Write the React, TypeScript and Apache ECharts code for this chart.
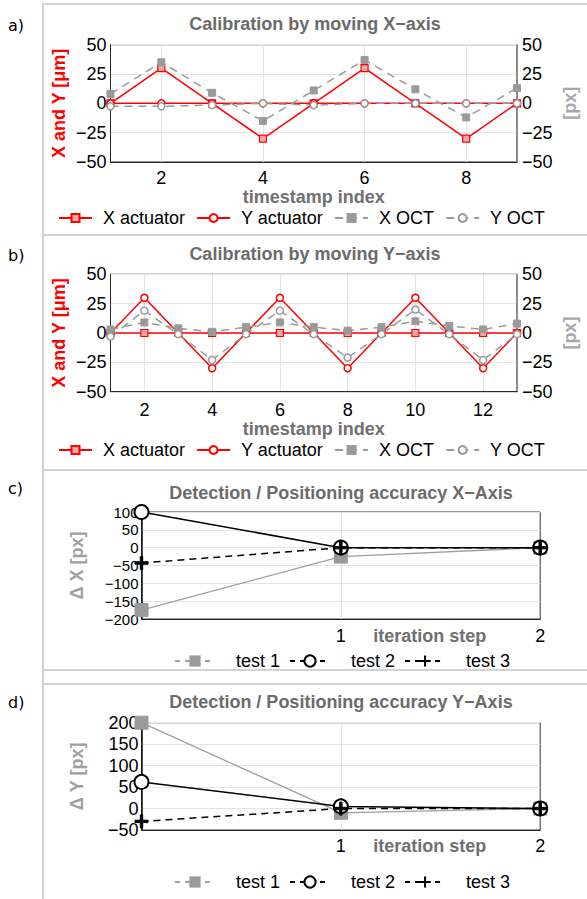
import React, { useEffect, useRef } from 'react';
import * as echarts from 'echarts';

const FONT = '"Liberation Sans", Arial, Helvetica, sans-serif';

// Panel a: calibration by moving X-axis
const idxA = ['1', '2', '3', '4', '5', '6', '7', '8', '9'];
const xActA = [0, 30, 0, -30, 0, 30, 0, -30, 0];
const yActA = [0, 0, 0, 0, 0, 0, 0, 0, 0];
const xOctA = [8, 35, 9, -15, 11, 37, 12, -12, 13];
const yOctA = [-2.5, -2.5, -1.5, 0, -1.5, 0, 0, 0, 0];

// Panel b: calibration by moving Y-axis
const idxB = ['1', '2', '3', '4', '5', '6', '7', '8', '9', '10', '11', '12', '13'];
const xActB = [0, 0, 0, 0, 0, 0, 0, 0, 0, 0, 0, 0, 0];
const yActB = [0, 30, 0, -30, 0, 30, 0, -30, 0, 30, 0, -30, 0];
const xOctB = [3, 9, 4, 1, 5, 9, 5, 2, 5, 10, 6, 3, 8];
const yOctB = [-3, 19, -1, -23, -1, 19, -1, -21, -1, 20, -1, -23, -1];

// Panels c/d: iteration steps
const steps = ['0', '1', '2'];
const test1X = [-175, -25, 0];
const test2X = [100, 0, 0];
const test3X = [-43, 0, 0];
const test1Y = [200, -10, 0];
const test2Y = [62, 5, 0];
const test3Y = [-30, 0, 0];

const calLegend = ['X actuator', 'Y actuator', 'X OCT', 'Y OCT'];
const testLegend = ['test 1', 'test 2', 'test 3'];

const PLUS = 'path://M-1.1,-6H1.1V-1.1H6V1.1H1.1V6H-1.1V1.1H-6V-1.1H-1.1Z';

const fmt = (v: number | string) => String(v).replace('-', '\u2212');

const RED = '#ff0000';
const GRAY = '#9a9a9a';
const TITLE_GRAY = '#6b6b6b';
const GRID_LINE = '#e4e4e4';
const BOX = '#262626';

function calXAxis(gridIndex: number, data: string[], nameGap: number, margin: number) {
  return {
    gridIndex,
    type: 'category',
    data,
    boundaryGap: false,
    axisLine: { onZero: false, lineStyle: { color: BOX, width: 1 } },
    axisTick: { show: false },
    axisLabel: {
      interval: (i: number, v: string) => Number(v) % 2 === 0,
      fontSize: 18,
      fontFamily: FONT,
      color: '#000',
      margin,
    },
    splitLine: {
      show: true,
      interval: (i: number, v: string) => Number(v) % 2 === 0,
      lineStyle: { color: GRID_LINE, width: 1 },
    },
    name: 'timestamp index',
    nameLocation: 'middle',
    nameGap,
    nameMoveOverlap: false,
    nameTextStyle: { fontSize: 18, fontWeight: 'bold', color: '#707070', fontFamily: FONT },
  };
}

function calYAxes(gridIndex: number) {
  return [
    {
      gridIndex,
      type: 'value',
      position: 'left',
      min: -50,
      max: 50,
      interval: 25,
      axisLine: { show: true, onZero: false, lineStyle: { color: BOX, width: 1 } },
      axisTick: { show: false },
      axisLabel: { formatter: fmt, fontSize: 18, fontFamily: FONT, color: '#000', margin: 4 },
      splitLine: { show: true, lineStyle: { color: GRID_LINE, width: 1 } },
      name: 'X and Y [\u03bcm]',
      nameLocation: 'middle',
      nameGap: 43,
      nameMoveOverlap: false,
      nameTextStyle: { fontSize: 18, fontWeight: 'bold', color: RED, fontFamily: FONT },
    },
    {
      gridIndex,
      type: 'value',
      position: 'right',
      min: -50,
      max: 50,
      interval: 25,
      axisLine: { show: true, onZero: false, lineStyle: { color: '#8a8a8a', width: 1.5 } },
      axisTick: { show: false },
      axisLabel: { formatter: fmt, fontSize: 18, fontFamily: FONT, color: '#000', margin: 5 },
      splitLine: { show: false },
      name: '[px]',
      nameLocation: 'middle',
      nameGap: 44,
      nameMoveOverlap: false,
      nameTextStyle: { fontSize: 18, fontWeight: 'bold', color: '#a8a8a8', fontFamily: FONT },
    },
  ];
}

function calSeries(xi: number, yl: number, yr: number, xa: number[], ya: number[], xo: number[], yo: number[]) {
  return [
    {
      name: 'X actuator', type: 'line', xAxisIndex: xi, yAxisIndex: yl, data: xa,
      symbol: 'rect', symbolSize: 7,
      lineStyle: { color: RED, width: 1.5 },
      itemStyle: { color: '#f2a9a9', borderColor: RED, borderWidth: 1.2 },
    },
    {
      name: 'Y actuator', type: 'line', xAxisIndex: xi, yAxisIndex: yl, data: ya,
      symbol: 'circle', symbolSize: 7,
      lineStyle: { color: RED, width: 1.5 },
      itemStyle: { color: '#ffffff', borderColor: RED, borderWidth: 1.5 },
    },
    {
      name: 'X OCT', type: 'line', xAxisIndex: xi, yAxisIndex: yr, data: xo,
      symbol: 'rect', symbolSize: 7,
      lineStyle: { color: GRAY, width: 1.5, type: [8, 6] },
      itemStyle: { color: GRAY, borderColor: GRAY, borderWidth: 1 },
    },
    {
      name: 'Y OCT', type: 'line', xAxisIndex: xi, yAxisIndex: yr, data: yo,
      symbol: 'circle', symbolSize: 7,
      lineStyle: { color: GRAY, width: 1.5, type: [8, 6] },
      itemStyle: { color: '#ffffff', borderColor: GRAY, borderWidth: 1.5 },
    },
  ];
}

function accXAxis(gridIndex: number, margin: number) {
  return {
    gridIndex,
    type: 'category',
    data: steps,
    boundaryGap: false,
    axisLine: { onZero: false, lineStyle: { color: BOX, width: 1 } },
    axisTick: { show: false },
    axisLabel: {
      interval: (i: number) => i > 0,
      fontSize: 18,
      fontFamily: FONT,
      color: '#000',
      margin,
    },
    splitLine: {
      show: true,
      interval: (i: number) => i === 1,
      lineStyle: { color: GRID_LINE, width: 1 },
    },
    name: 'iteration step',
    nameLocation: 'middle',
    nameGap: margin,
    nameMoveOverlap: false,
    nameTextStyle: {
      fontSize: 18, fontWeight: 'bold', color: '#707070', fontFamily: FONT,
      padding: [0, 0, 0, 178],
    },
  };
}

function accYAxis(gridIndex: number, min: number, max: number, name: string, labelSize: number) {
  return {
    gridIndex,
    type: 'value',
    min,
    max,
    interval: 50,
    axisLine: { show: true, onZero: false, lineStyle: { color: '#111', width: 1.5 } },
    axisTick: { show: false },
    axisLabel: { formatter: fmt, fontSize: labelSize, fontFamily: FONT, color: '#000', margin: 3 },
    splitLine: { show: true, lineStyle: { color: GRID_LINE, width: 1 } },
    name,
    nameLocation: 'middle',
    nameGap: 56,
    nameMoveOverlap: false,
    nameTextStyle: { fontSize: 18, fontWeight: 'bold', color: '#a0a0a0', fontFamily: FONT },
  };
}

function accSeries(xi: number, yi: number, t1: number[], t2: number[], t3: number[]) {
  return [
    {
      name: 'test 1', type: 'line', xAxisIndex: xi, yAxisIndex: yi, data: t1,
      symbol: 'rect', symbolSize: 13,
      lineStyle: { color: '#a0a0a0', width: 1.3 },
      itemStyle: { color: '#9a9a9a', borderColor: '#9a9a9a' },
    },
    {
      name: 'test 2', type: 'line', xAxisIndex: xi, yAxisIndex: yi, data: t2,
      symbol: 'circle', symbolSize: 14,
      lineStyle: { color: '#000', width: 1.5 },
      itemStyle: { color: '#ffffff', borderColor: '#000', borderWidth: 2 },
    },
    {
      name: 'test 3', type: 'line', xAxisIndex: xi, yAxisIndex: yi, data: t3,
      symbol: PLUS, symbolSize: 13,
      lineStyle: { color: '#000', width: 1.5, type: [7, 5] },
      itemStyle: { color: '#000', borderColor: '#000' },
    },
  ];
}

function calLegendOpt(top: number) {
  return {
    top,
    left: 58,
    padding: 0,
    orient: 'horizontal',
    selectedMode: false,
    itemWidth: 33,
    itemHeight: 10,
    itemGap: 11,
    textStyle: { fontSize: 18, fontFamily: FONT, color: '#000', padding: [0, 0, 0, 6] },
    data: calLegend,
  };
}

function testLegendOpt(top: number) {
  return {
    top,
    left: 174,
    padding: 0,
    orient: 'horizontal',
    selectedMode: false,
    itemWidth: 40,
    itemHeight: 14,
    itemGap: 9,
    textStyle: { fontSize: 18, fontFamily: FONT, color: '#000', padding: [0, 0, 0, 16] },
    data: testLegend.map((n) => ({ name: n, lineStyle: { type: [5, 5] } })),
  };
}

function title(text: string, x: number, y: number) {
  return {
    text,
    left: x,
    top: y,
    padding: 0,
    textAlign: 'center',
    textVerticalAlign: 'middle',
    textStyle: { fontSize: 18, fontWeight: 'bold', color: TITLE_GRAY, fontFamily: FONT },
  };
}

function frameLine(x1: number, y1: number, x2: number, y2: number) {
  return {
    type: 'line',
    silent: true,
    shape: { x1, y1, x2, y2 },
    style: { stroke: '#d2d2d2', lineWidth: 2 },
  };
}

function panelLabel(text: string, y: number) {
  return {
    type: 'text',
    x: 8,
    y,
    style: {
      text,
      fill: '#000',
      font: '16px "DejaVu Sans", sans-serif',
      verticalAlign: 'middle',
      align: 'left',
    },
  };
}

const option = {
  animation: false,
  backgroundColor: '#ffffff',
  title: [
    title('Calibration by moving X\u2212axis', 315, 24),
    title('Calibration by moving Y\u2212axis', 315, 254),
    title('Detection / Positioning accuracy X\u2212Axis', 341, 493),
    title('Detection / Positioning accuracy Y\u2212Axis', 341, 702),
  ],
  legend: [calLegendOpt(209), calLegendOpt(441), testLegendOpt(652), testLegendOpt(873)],
  grid: [
    { left: 110.5, top: 44.7, width: 409.5, height: 117.3, show: true, borderColor: BOX, borderWidth: 1 },
    { left: 110.5, top: 274.3, width: 409.5, height: 117.4, show: true, borderColor: BOX, borderWidth: 1 },
    { left: 141.5, top: 512, width: 398.7, height: 107, show: true, borderColor: '#333', borderWidth: 1 },
    { left: 141.5, top: 722.7, width: 398.7, height: 107.3, show: true, borderColor: '#333', borderWidth: 1 },
  ],
  xAxis: [
    calXAxis(0, idxA, 26, 7),
    calXAxis(1, idxB, 28, 9),
    accXAxis(2, 8),
    accXAxis(3, 7),
  ],
  yAxis: [
    ...calYAxes(0),
    ...calYAxes(1),
    accYAxis(2, -200, 100, '\u0394 X [px]', 15),
    accYAxis(3, -50, 200, '\u0394 Y [px]', 18),
  ],
  series: [
    ...calSeries(0, 0, 1, xActA, yActA, xOctA, yOctA),
    ...calSeries(1, 2, 3, xActB, yActB, xOctB, yOctB),
    ...accSeries(2, 4, test1X, test2X, test3X),
    ...accSeries(3, 5, test1Y, test2Y, test3Y),
  ],
  graphic: [
    frameLine(43, 3, 43, 899),
    frameLine(43, 4, 587, 4),
    frameLine(43, 235, 587, 235),
    frameLine(43, 470, 587, 470),
    frameLine(43, 670, 587, 670),
    frameLine(43, 684, 587, 684),
    panelLabel('a)', 25),
    panelLabel('b)', 255),
    panelLabel('c)', 488),
    panelLabel('d)', 702),
  ],
};

export default function App() {
  const ref = useRef<HTMLDivElement>(null);
  useEffect(() => {
    if (!ref.current) return;
    const chart = echarts.init(ref.current, null, { renderer: 'svg' });
    chart.setOption(option as any);
    return () => {
      chart.dispose();
    };
  }, []);
  return (
    <div
      ref={ref}
      style={{ position: 'fixed', left: 0, top: 0, width: 587, height: 899, background: '#fff' }}
    />
  );
}
